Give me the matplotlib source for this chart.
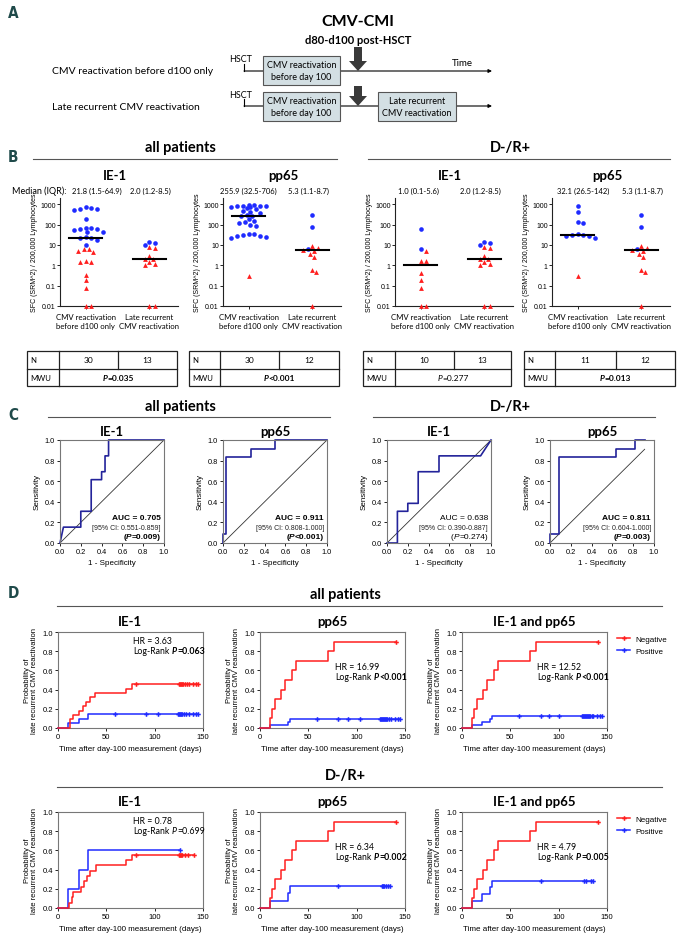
import numpy as np
import matplotlib
matplotlib.use('Agg')
import matplotlib.pyplot as plt
from matplotlib.patches import Rectangle, Polygon
from matplotlib.lines import Line2D
from matplotlib.transforms import offset_copy

# ------------------------------------------------------------------ data
groups = ['CMV reactivation\nbefore d100 only', 'Late recurrent\nCMV reactivation']

ie1_all_before_pos = [700, 650, 600, 560, 500, 190, 70, 65, 62, 58, 55, 45, 42, 25, 22, 21.6, 17, 10]
ie1_all_before_neg = [6.5, 6, 5, 4.5, 1.6, 1.5, 1.5, 0.35, 0.18, 0.08, 0.01, 0.01]
ie1_late_pos = [14, 13, 10]
ie1_late_neg = [7.5, 7, 2.8, 2, 2, 1.4, 1.2, 1.0, 0.01, 0.01]
pp65_all_before_pos = [900, 870, 850, 820, 800, 780, 750, 720, 650, 550, 480, 420, 380, 300, 262,
                       250, 180, 150, 130, 115, 100, 85, 35, 33, 30, 28, 26, 24, 22]
pp65_all_before_neg = [0.3]
pp65_late_pos = [280, 75, 6.5]
pp65_late_neg = [9, 7, 5.6, 5.0, 3.5, 2.5, 0.6, 0.45, 0.01]
ie1_dr_before_pos = [60, 6.5]
ie1_dr_before_neg = [5, 1.7, 1.6, 0.4, 0.18, 0.08, 0.01, 0.01]
pp65_dr_before_pos = [800, 420, 140, 120, 35, 32.1, 30, 28, 26, 22]
pp65_dr_before_neg = [0.3]

median_labels = [['21.8 (1.5-64.9)', '2.0 (1.2-8.5)'], ['255.9 (32.5-706)', '5.3 (1.1-8.7)'],
                 ['1.0 (0.1-5.6)', '2.0 (1.2-8.5)'], ['32.1 (26.5-142)', '5.3 (1.1-8.7)']]
table_n = [[30, 13], [30, 12], [10, 13], [11, 12]]
table_p = [('=0.035', True), ('<0.001', True), ('=0.277', False), ('=0.013', True)]

roc_ie1_all_x = [0, 0.033, 0.2, 0.2, 0.3, 0.3, 0.4, 0.4, 0.433, 0.433, 0.467, 0.467, 1.0]
roc_ie1_all_y = [0, 0.154, 0.154, 0.308, 0.308, 0.615, 0.615, 0.692, 0.692, 0.846, 0.846, 1.0, 1.0]
roc_pp65_all_x = [0, 0, 0.033, 0.033, 0.267, 0.267, 0.5, 0.5, 1.0]
roc_pp65_all_y = [0, 0.083, 0.083, 0.833, 0.833, 0.917, 0.917, 1.0, 1.0]
roc_ie1_dr_x = [0, 0.1, 0.1, 0.2, 0.2, 0.3, 0.3, 0.5, 0.5, 0.9, 1.0]
roc_ie1_dr_y = [0, 0, 0.308, 0.308, 0.385, 0.385, 0.692, 0.692, 0.846, 0.846, 1.0]
roc_pp65_dr_x = [0, 0, 0.091, 0.091, 0.636, 0.636, 0.818, 0.818, 0.91]
roc_pp65_dr_y = [0, 0.083, 0.083, 0.833, 0.833, 0.917, 0.917, 1.0, 1.0]
roc_diag_end = [1.0, 1.0, 1.0, 0.91]
roc_auc = [('AUC = 0.705', True), ('AUC = 0.911', True), ('AUC = 0.638', False), ('AUC = 0.811', True)]
roc_ci = ['[95% CI: 0.551-0.859]', '[95% CI: 0.808-1.000]', '[95% CI: 0.390-0.887]', '[95% CI: 0.604-1.000]']
roc_p = [('=0.009', True), ('<0.001', True), ('=0.274', False), ('=0.003', True)]

# Kaplan-Meier (cumulative incidence) step curves: step times, levels, censor times
neg_red_t = [0, 10, 12, 15, 22, 26, 33, 37, 70, 77]
neg_red_p = [0, 0.1, 0.2, 0.3, 0.4, 0.5, 0.6, 0.7, 0.8, 0.9]
neg_red_c = [141]

km_ie1_all_neg_t = [0, 12, 15, 22, 26, 29, 33, 38, 70, 77]
km_ie1_all_neg_p = [0, 0.091, 0.136, 0.182, 0.227, 0.273, 0.318, 0.364, 0.409, 0.455]
km_ie1_all_neg_c = [81, 125, 126, 127, 128, 129, 131, 133, 135, 140, 143, 145]
km_ie1_all_pos_t = [0, 10, 22, 31]
km_ie1_all_pos_p = [0, 0.048, 0.095, 0.143]
km_ie1_all_pos_c = [59, 91, 103, 124, 125, 126, 127, 128, 130, 132, 135, 140, 143, 145]

km_pp65_all_pos_t = [0, 10, 29, 31]
km_pp65_all_pos_p = [0, 0.031, 0.062, 0.094]
km_pp65_all_pos_c = [59, 81, 91, 103, 124, 125, 126, 127, 128, 129, 130, 131, 133, 135, 140, 143, 145]

km_both_all_pos_t = [0, 10, 21, 29, 31]
km_both_all_pos_p = [0, 0.03, 0.06, 0.09, 0.12]
km_both_all_pos_c = [59, 82, 90, 100, 124, 125, 126, 127, 128, 129, 130, 131, 132, 134, 136, 140, 143, 145]

km_ie1_dr_neg_t = [0, 11, 14, 16, 24, 27, 30, 33, 39, 70, 77]
km_ie1_dr_neg_p = [0, 0.056, 0.111, 0.167, 0.222, 0.278, 0.333, 0.389, 0.444, 0.5, 0.556]
km_ie1_dr_neg_c = [81, 125, 126, 127, 128, 131, 134, 141]
km_ie1_dr_pos_t = [0, 10, 22, 31]
km_ie1_dr_pos_p = [0, 0.2, 0.4, 0.6]
km_ie1_dr_pos_c = [126]

km_pp65_dr_pos_t = [0, 10, 29, 31]
km_pp65_dr_pos_p = [0, 0.077, 0.154, 0.231]
km_pp65_dr_pos_c = [81, 126, 127, 128, 130, 132, 134]

km_both_dr_pos_t = [0, 10, 21, 29, 31]
km_both_dr_pos_p = [0, 0.071, 0.143, 0.214, 0.286]
km_both_dr_pos_c = [82, 126, 128, 133, 135]

km_hr = ['HR = 3.63', 'HR = 16.99', 'HR = 12.52', 'HR = 0.78', 'HR = 6.34', 'HR = 4.79']
km_p = [('=0.063', True), ('<0.001', True), ('<0.001', True), ('=0.699', False), ('=0.002', True), ('=0.005', True)]
km_titles = ['IE-1', 'pp65', 'IE-1 and pp65']
legend_labels = ['Negative', 'Positive']

# ------------------------------------------------------------------ setup
W, H = 680, 937
fig = plt.figure(figsize=(6.8, 9.37), dpi=100)
plt.rcParams['font.family'] = ['Liberation Sans', 'DejaVu Sans']
CAL = ['Lato', 'DejaVu Sans']
ARI = ['Liberation Sans', 'DejaVu Sans']
RED = '#ff1f1f'
BLUE = '#1f2bff'
NAVY = '#23239a'
LET = '#1f4a4a'
renderer = fig.canvas.get_renderer()


def add_ax(x0, y0, x1, y1):
    return fig.add_axes([x0 / W, 1 - y1 / H, (x1 - x0) / W, (y1 - y0) / H])


def ftext(x, y, s, **kw):
    return fig.text(x / W, 1 - y / H, s, **kw)


def hline(x0, x1, y, lw=0.8, color='#555555'):
    fig.add_artist(Line2D([x0 / W, x1 / W], [1 - y / H, 1 - y / H], lw=lw, color=color))


def rich(x, y, parts, transform, ha='left', va='center', size=6, family=ARI):
    objs, ws = [], []
    for s, kw, gap in parts:
        t = fig.text(x, y, s, transform=transform, ha='left', va=va, fontsize=size,
                     family=family, **kw)
        objs.append(t)
        ws.append(t.get_window_extent(renderer).width + gap)
    total = sum(ws)
    cum = {'left': 0, 'center': -total / 2, 'right': -total}[ha]
    for t, w in zip(objs, ws):
        t.set_transform(offset_copy(transform, x=cum, y=0, units='dots'))
        cum += w


def letter(x, y, s):
    ftext(x, y, s, fontsize=11, color=LET, family='DejaVu Sans', fontweight='bold',
          fontstretch='condensed', ha='left', va='center')


# ------------------------------------------------------------------ panel A
letter(8, 14, 'A')
axA = add_ax(0, 0, 680, 135)
axA.set_xlim(0, 680)
axA.set_ylim(135, 0)
axA.axis('off')
ftext(358, 22, 'CMV-CMI', fontsize=11.5, fontweight='bold', family=CAL, ha='center', va='center')
ftext(358, 40, 'd80-d100 post-HSCT', fontsize=8, fontweight='bold', family=CAL, ha='center', va='center')
row_labels = ['CMV reactivation before d100 only', 'Late recurrent CMV reactivation']
for i, (ly, by) in enumerate([(72, 57), (107, 93)]):
    axA.text(52, ly, row_labels[i], fontsize=7.5, family=CAL, ha='left', va='center')
    axA.text(241, ly - 12, 'HSCT', fontsize=6.5, family=CAL, ha='center', va='center')
    axA.plot([244, 244], [ly - 7, ly], color='black', lw=0.8)
    axA.annotate('', xy=(492, ly), xytext=(244, ly),
                 arrowprops=dict(arrowstyle='-|>', lw=0.8, color='black', mutation_scale=5,
                                 shrinkA=0, shrinkB=0))
    axA.add_patch(Rectangle((263, by), 77, 29, fc='#d3dfe3', ec='#555555', lw=0.8, zorder=3))
    axA.text(301.5, by + 14.5, 'CMV reactivation\nbefore day 100', fontsize=6.5, family=CAL,
             ha='center', va='center', linespacing=1.3, zorder=4)
    top = ly - 24 if i == 0 else ly - 20
    axA.add_patch(Polygon([[354, top], [362, top], [362, ly - 10], [367, ly - 10], [358, ly],
                           [349, ly - 10], [354, ly - 10]], closed=True, fc='#3a3a3a', ec='none',
                          zorder=5))
axA.text(462, 63, 'Time', fontsize=7, family=CAL, ha='center', va='center')
axA.add_patch(Rectangle((378, 93), 78, 29, fc='#d3dfe3', ec='#555555', lw=0.8, zorder=3))
axA.text(417, 107.5, 'Late recurrent\nCMV reactivation', fontsize=6.5, family=CAL,
         ha='center', va='center', linespacing=1.3, zorder=4)

# ------------------------------------------------------------------ panel B
letter(8, 157, 'B')
ftext(180, 148, 'all patients', fontsize=10.5, fontweight='bold', family=CAL, ha='center', va='center')
hline(33, 337, 160)
ftext(510, 148, 'D-/R+', fontsize=10.5, fontweight='bold', family=CAL, ha='center', va='center')
hline(368, 670, 160)
ftext(12, 191, 'Median (IQR):', fontsize=6.5, family=CAL, ha='left', va='center')


def swarm_offsets(vals, ppu=64.0, ppd=20.4, r=4.6, step=0.06, maxoff=0.32):
    vals = np.asarray(vals, float)
    order = np.argsort(-vals, kind='stable')
    placed, offs = [], np.zeros(len(vals))
    cands = [0.0]
    j = 1
    while j * step * 0.5 <= maxoff:
        cands += [j * step * 0.5, -j * step * 0.5]
        j += 1
    for i in order:
        ly = np.log10(vals[i]) * ppd
        best, bestd = 0.0, -1
        chosen = None
        for c in cands:
            dmin = min([np.hypot((c - ox) * ppu, ly - oy) for ox, oy in placed] or [99])
            if dmin >= r:
                chosen = c
                break
            if dmin > bestd:
                best, bestd = c, dmin
        if chosen is None:
            chosen = best
        placed.append((chosen, ly))
        offs[i] = chosen
    return offs


b_sets = [
    ('IE-1', (ie1_all_before_pos, ie1_all_before_neg), (ie1_late_pos, ie1_late_neg)),
    ('pp65', (pp65_all_before_pos, pp65_all_before_neg), (pp65_late_pos, pp65_late_neg)),
    ('IE-1', (ie1_dr_before_pos, ie1_dr_before_neg), (ie1_late_pos, ie1_late_neg)),
    ('pp65', (pp65_dr_before_pos, pp65_dr_before_neg), (pp65_late_pos, pp65_late_neg)),
]
b_left = [60, 223, 395, 552]
b_title_x = [115, 283, 450, 607]
b_med_x = [(97, 150), (248, 308), (418, 480), (583, 642)]
for k, (title, g0, g1) in enumerate(b_sets):
    ax = add_ax(b_left[k], 199, b_left[k] + 118, 307)
    ax.set_yscale('log')
    ax.set_ylim(0.01, 2000)
    ax.set_xlim(-0.4, 1.45)
    for gi, (pos, neg) in enumerate([g0, g1]):
        allv = list(pos) + list(neg)
        offs = swarm_offsets(allv)
        npos = len(pos)
        ax.scatter(gi + offs[:npos], pos, s=11, marker='o', color=BLUE, lw=0, clip_on=False, zorder=3)
        ax.scatter(gi + offs[npos:], neg, s=12, marker='^', color=RED, lw=0, clip_on=False, zorder=3)
        med = np.median(allv)
        ax.plot([gi - 0.26, gi + 0.26], [med, med], color='black', lw=1.5, zorder=4)
    for s in ['top', 'right']:
        ax.spines[s].set_visible(False)
    for s in ['left', 'bottom']:
        ax.spines[s].set_linewidth(0.8)
        ax.spines[s].set_color('#222222')
    ax.set_yticks([0.01, 0.1, 1, 10, 100, 1000])
    ax.set_yticklabels(['0.01', '0.1', '1', '10', '100', '1000'])
    ax.yaxis.set_minor_locator(matplotlib.ticker.NullLocator())
    ax.set_xticks([0, 1])
    ax.set_xticklabels(groups, fontsize=5.6, family=CAL, linespacing=1.3)
    ax.tick_params(axis='y', labelsize=5, length=2, width=0.6, pad=1)
    ax.tick_params(axis='x', length=2, width=0.6, pad=3)
    ax.set_ylabel('SFC (SRM^2) / 200,000 Lymphocytes', fontsize=5, labelpad=2)
    ftext(b_title_x[k], 176, title, fontsize=9.5, fontweight='bold', family=CAL, ha='center', va='center')
    for gi in range(2):
        ftext(b_med_x[k][gi], 191, median_labels[k][gi], fontsize=5.5, family=CAL, ha='center', va='center')

# tables
tables = [(27, 59, 118, 177), (189, 220, 279, 339), (363, 395, 454, 511), (524, 555, 616, 675)]
for k, (x0, xn, xs, x1) in enumerate(tables):
    axt = add_ax(x0 - 2, 350, x1 + 2, 390)
    axt.set_xlim(x0 - 2, x1 + 2)
    axt.set_ylim(390, 350)
    axt.axis('off')
    lw = 0.9
    axt.add_patch(Rectangle((x0, 352), x1 - x0, 35, fc='none', ec='#222222', lw=lw))
    axt.plot([x0, x1], [369.5, 369.5], color='#222222', lw=lw)
    axt.plot([xn, xn], [352, 387], color='#222222', lw=lw)
    axt.plot([xs, xs], [352, 369.5], color='#222222', lw=lw)
    axt.text(x0 + 3, 361, 'N', fontsize=5.6, family=CAL, ha='left', va='center')
    axt.text(x0 + 3, 378.5, 'MWU', fontsize=5.6, family=CAL, ha='left', va='center')
    axt.text((xn + xs) / 2, 361, str(table_n[k][0]), fontsize=6.0, family=CAL, ha='center', va='center')
    axt.text((xs + x1) / 2, 361, str(table_n[k][1]), fontsize=6.0, family=CAL, ha='center', va='center')
    pv, bold = table_p[k]
    rich((xn + x1) / 2, 378.5, [('P', dict(style='italic', fontweight='bold' if bold else 'normal'), 0),
                                (pv, dict(fontweight='bold' if bold else 'normal'), 0)],
         axt.transData, ha='center', size=6.0, family=CAL)

# ------------------------------------------------------------------ panel C
letter(8, 415, 'C')
ftext(180, 407, 'all patients', fontsize=10.5, fontweight='bold', family=CAL, ha='center', va='center')
hline(48, 330, 418)
ftext(510, 407, 'D-/R+', fontsize=10.5, fontweight='bold', family=CAL, ha='center', va='center')
hline(373, 655, 418)
roc_sets = [(roc_ie1_all_x, roc_ie1_all_y), (roc_pp65_all_x, roc_pp65_all_y),
            (roc_ie1_dr_x, roc_ie1_dr_y), (roc_pp65_dr_x, roc_pp65_dr_y)]
c_left = [60, 223, 387, 550]
c_titles = ['IE-1', 'pp65', 'IE-1', 'pp65']
for k, (rx, ry) in enumerate(roc_sets):
    ax = add_ax(c_left[k], 441, c_left[k] + 104, 544)
    ax.set_xlim(0, 1)
    ax.set_ylim(0, 1)
    d = roc_diag_end[k]
    ax.plot([0, d], [0, d], color='#333333', lw=0.6)
    ax.plot(rx, ry, color=NAVY, lw=1.2, clip_on=False)
    for s in ax.spines.values():
        s.set_linewidth(0.8)
        s.set_color('#777777')
    ax.set_xticks(np.arange(0, 1.01, 0.2))
    ax.set_yticks(np.arange(0, 1.01, 0.2))
    ax.xaxis.set_major_formatter(matplotlib.ticker.FormatStrFormatter('%.1f'))
    ax.yaxis.set_major_formatter(matplotlib.ticker.FormatStrFormatter('%.1f'))
    ax.tick_params(labelsize=5.3, length=2, width=0.6, pad=1.5)
    ax.set_xlabel('1 - Specificity', fontsize=5.8, labelpad=3)
    ax.set_ylabel('Sensitivity', fontsize=5.8, labelpad=3)
    ftext(c_left[k] + 52, 432, c_titles[k], fontsize=9.5, fontweight='bold', family=CAL, ha='center', va='center')
    auc, bold = roc_auc[k]
    ax.text(0.97, 0.25, auc, transform=ax.transAxes, fontsize=6, ha='right', va='center',
            fontweight='bold' if bold else 'normal')
    ax.text(0.97, 0.155, roc_ci[k], transform=ax.transAxes, fontsize=5, ha='right', va='center', color='#222222')
    pv, bold = roc_p[k]
    wt = 'bold' if bold else 'normal'
    rich(0.97, 0.065, [('(', dict(fontweight=wt), 0), ('P', dict(style='italic', fontweight=wt), 0),
                       (pv + ')', dict(fontweight=wt), 0)], ax.transAxes, ha='right', size=6)

# ------------------------------------------------------------------ panel D
letter(8, 593, 'D')


def km_curve(ax, t, p, c, color):
    tt = list(t) + [max(c)]
    pp = list(p) + [p[-1]]
    ax.step(tt, pp, where='post', color=color, lw=1.1, clip_on=False, zorder=3)
    idx = np.searchsorted(np.asarray(t), np.asarray(c), side='right') - 1
    cy = np.asarray(p)[idx]
    ax.plot(c, cy, ls='none', marker='P', ms=3.3, mew=0, color=color, clip_on=False, zorder=4)


km_rows = [
    (595, 607, 622, 633, 729, 748, 'all patients', [
        ((km_ie1_all_neg_t, km_ie1_all_neg_p, km_ie1_all_neg_c), (km_ie1_all_pos_t, km_ie1_all_pos_p, km_ie1_all_pos_c)),
        ((neg_red_t, neg_red_p, neg_red_c), (km_pp65_all_pos_t, km_pp65_all_pos_p, km_pp65_all_pos_c)),
        ((neg_red_t, neg_red_p, neg_red_c), (km_both_all_pos_t, km_both_all_pos_p, km_both_all_pos_c))]),
    (776, 788, 802, 813, 909, 928, 'D-/R+', [
        ((km_ie1_dr_neg_t, km_ie1_dr_neg_p, km_ie1_dr_neg_c), (km_ie1_dr_pos_t, km_ie1_dr_pos_p, km_ie1_dr_pos_c)),
        ((neg_red_t, neg_red_p, neg_red_c), (km_pp65_dr_pos_t, km_pp65_dr_pos_p, km_pp65_dr_pos_c)),
        ((neg_red_t, neg_red_p, neg_red_c), (km_both_dr_pos_t, km_both_dr_pos_p, km_both_dr_pos_c))]),
]
d_left = [58, 260, 462]
for r, (hy, ly, ty, top, bot, xly, head, sets) in enumerate(km_rows):
    ftext(345, hy, head, fontsize=10.5, fontweight='bold', family=CAL, ha='center', va='center')
    hline(57, 662, ly)
    for k, (neg, pos) in enumerate(sets):
        idx = r * 3 + k
        ax = add_ax(d_left[k], top, d_left[k] + 145, bot)
        ax.set_xlim(0, 150)
        ax.set_ylim(0, 1.0)
        km_curve(ax, *pos, BLUE)
        km_curve(ax, *neg, RED)
        for s in ax.spines.values():
            s.set_linewidth(0.8)
            s.set_color('#777777')
        ax.set_xticks([0, 50, 100, 150])
        ax.set_yticks(np.arange(0, 1.01, 0.2))
        ax.yaxis.set_major_formatter(matplotlib.ticker.FormatStrFormatter('%.1f'))
        ax.tick_params(labelsize=5.5, length=2, width=0.6, pad=1.5)
        ax.set_xlabel('Time after day-100 measurement (days)', fontsize=5.8, labelpad=4)
        ax.set_ylabel('Probability of\nlate recurrent CMV reactivation', fontsize=5.5, labelpad=3,
                      linespacing=1.1)
        ftext(d_left[k] + 72, ty, km_titles[k], fontsize=9.5, fontweight='bold', family=CAL,
              ha='center', va='center')
        hy_ax = 0.915 if k == 0 else 0.645
        ax.text(0.52, hy_ax, km_hr[idx], transform=ax.transAxes, fontsize=6.3, family=CAL,
                ha='left', va='center')
        pv, bold = km_p[idx]
        wt = 'bold' if bold else 'normal'
        rich(0.52, hy_ax - 0.11, [('Log-Rank', {}, 2.2), ('P', dict(style='italic', fontweight=wt), 0),
                                  (pv, dict(fontweight=wt), 0)], ax.transAxes, ha='left', size=6.3,
             family=CAL)
        if k == 2:
            handles = [Line2D([], [], color=RED, lw=1.1, marker='P', ms=3.3, mew=0),
                       Line2D([], [], color=BLUE, lw=1.1, marker='P', ms=3.3, mew=0)]
            ax.legend(handles, legend_labels, loc='upper left', bbox_to_anchor=(1.05, 1.0),
                      frameon=False, fontsize=5.8, handlelength=1.6, handletextpad=0.6,
                      labelspacing=0.5, borderaxespad=0)

fig.savefig('out.png', dpi=100)
